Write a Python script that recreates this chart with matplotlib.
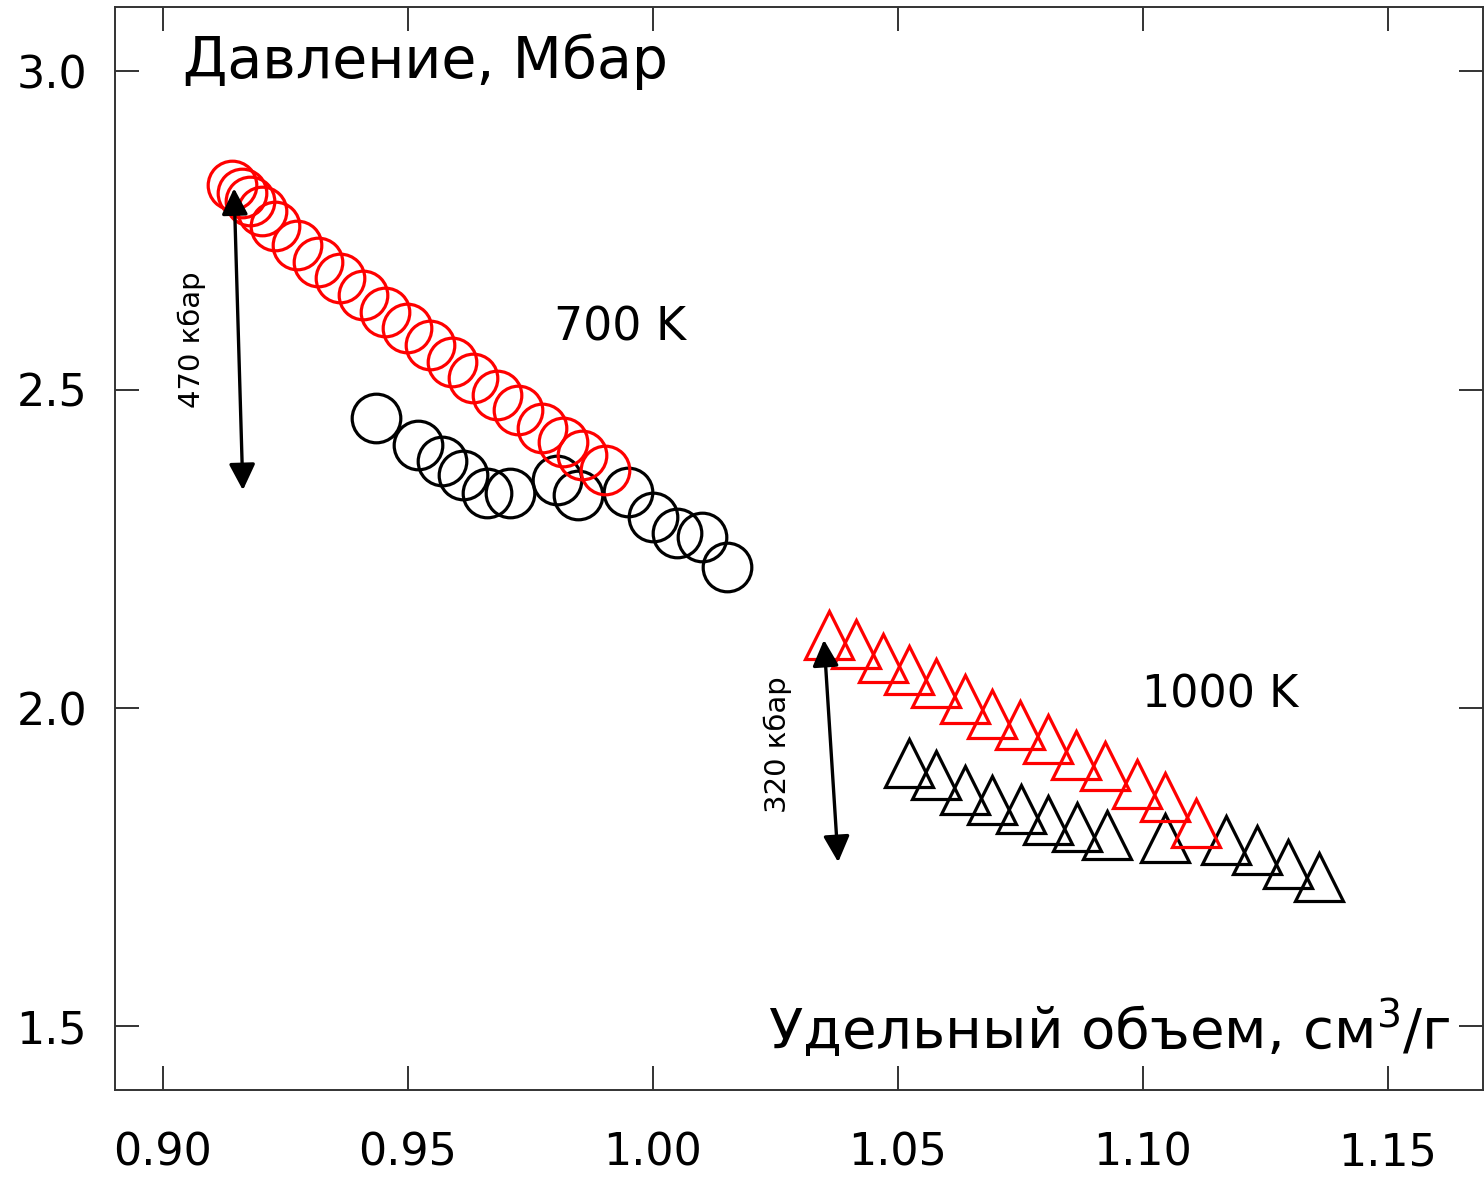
import matplotlib
matplotlib.use("Agg")
import matplotlib.pyplot as plt

# 700 K, circles
red_circ_v = [0.9141, 0.9161, 0.9178, 0.9202, 0.9229, 0.9273, 0.9316, 0.9361, 0.9408, 0.9453,
              0.9498, 0.9545, 0.9590, 0.9633, 0.9682, 0.9724, 0.9773, 0.9816, 0.9855, 0.9902]
red_circ_p = [2.821, 2.808, 2.796, 2.780, 2.757, 2.727, 2.700, 2.675, 2.648, 2.622,
              2.597, 2.570, 2.543, 2.518, 2.491, 2.468, 2.440, 2.418, 2.397, 2.374]
blk_circ_v = [0.9435, 0.9520, 0.9570, 0.9612, 0.9661, 0.9708, 0.9804, 0.9847, 0.9949,
              1.0000, 1.0049, 1.0100, 1.0151]
blk_circ_p = [2.455, 2.413, 2.388, 2.366, 2.337, 2.337, 2.358, 2.334, 2.339,
              2.300, 2.275, 2.268, 2.221]

# 1000 K, triangles
red_tri_v = [1.0359, 1.0414, 1.0469, 1.0522, 1.0578, 1.0637, 1.0692, 1.0749, 1.0806, 1.0863,
             1.0922, 1.0988, 1.1045, 1.1108]
red_tri_p = [2.115, 2.100, 2.078, 2.060, 2.039, 2.014, 1.991, 1.973, 1.951, 1.926,
             1.909, 1.881, 1.860, 1.819]
blk_tri_v = [1.0522, 1.0578, 1.0637, 1.0692, 1.0751, 1.0806, 1.0865, 1.0927, 1.1045,
             1.1169, 1.1233, 1.1296, 1.1359]
blk_tri_p = [1.914, 1.895, 1.871, 1.856, 1.841, 1.824, 1.813, 1.801, 1.796,
             1.793, 1.777, 1.755, 1.735]

xticks = [0.90, 0.95, 1.00, 1.05, 1.10, 1.15]
yticks = [1.5, 2.0, 2.5, 3.0]

fig = plt.figure(figsize=(14.84, 11.79), dpi=100)
ax = fig.add_axes([0.0775, 0.0755, 0.9218, 0.9185])

ms = 35
mew = 2.3
ax.plot(blk_circ_v, blk_circ_p, 'o', ms=ms, mfc='none', mec='black', mew=mew)
ax.plot(red_circ_v, red_circ_p, 'o', ms=ms, mfc='none', mec='red', mew=mew)
ax.plot(blk_tri_v, blk_tri_p, '^', ms=ms, mfc='none', mec='black', mew=mew)
ax.plot(red_tri_v, red_tri_p, '^', ms=ms, mfc='none', mec='red', mew=mew)

# pressure difference arrows
arrow = dict(arrowstyle='<|-|>', color='black', lw=2.4, mutation_scale=40, shrinkA=0, shrinkB=0)
ax.annotate('', xy=(0.9145, 2.816), xytext=(0.9163, 2.342), arrowprops=arrow)
ax.annotate('', xy=(1.0349, 2.107), xytext=(1.0378, 1.758), arrowprops=arrow)
ax.text(0.9059, 2.578, '470 кбар', rotation=90, fontsize=21, ha='center', va='center')
ax.text(1.0255, 1.942, '320 кбар', rotation=90, fontsize=21, ha='center', va='center')

ax.text(0.9933, 2.597, '700 K', fontsize=33, ha='center', va='center')
ax.text(1.1157, 2.020, '1000 K', fontsize=32, ha='center', va='center')

ax.text(0.9040, 3.015, 'Давление, Мбар', fontsize=41, ha='left', va='center')
ax.text(1.1627, 1.4945, 'Удельный объем, см$^3$/г', fontsize=40.5, ha='right', va='center')

ax.set_xlim(0.8902, 1.1694)
ax.set_ylim(1.4003, 3.1005)
ax.set_xticks(xticks)
ax.set_xticklabels(['%.2f' % v for v in xticks])
ax.set_yticks(yticks)
ax.set_yticklabels(['%.1f' % v for v in yticks])
ax.tick_params(direction='in', length=17, width=1.4, color='#333333',
               top=True, right=True, labelsize=32)
ax.tick_params(axis='x', pad=30)
ax.tick_params(axis='y', pad=20)
for s in ax.spines.values():
    s.set_linewidth(1.4)
    s.set_color('#333333')

fig.savefig('out.png', dpi=100)
